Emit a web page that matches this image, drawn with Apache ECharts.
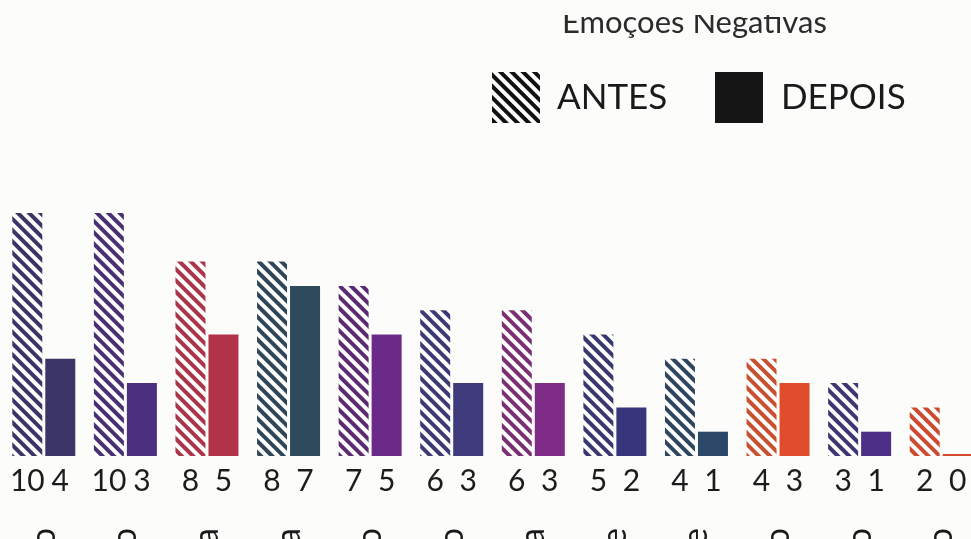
<!DOCTYPE html>
<html>
<head>
<meta charset="utf-8">
<script src="https://cdn.jsdelivr.net/npm/echarts@6/dist/echarts.min.js"></script>
<style>
  html, body { margin: 0; padding: 0; background: #fcfcfa; }
  #chart { width: 971px; height: 539px; }
</style>
</head>
<body>
<div id="chart"></div>
<script>
// Emotion categories, before/after counts and per-category colours
const categories = ['Medo', 'Desânimo', 'Tristeza', 'Raiva', 'Cansaço', 'Receio',
  'Angústia', 'Ansiedade', 'Saudade', 'Tédio', 'Pânico', 'Ódio'];
const antes = [10, 10, 8, 8, 7, 6, 6, 5, 4, 4, 3, 2];
const depois = [4, 3, 5, 7, 5, 3, 3, 2, 1, 3, 1, 0];
const solidColors = ['#3b3568', '#4c2f7e', '#b2324a', '#2f4a5d', '#6b2a87', '#3e3a7c',
  '#7f2c88', '#37357c', '#2c4868', '#df4d2c', '#4e2f88', '#d44a2c'];
const stripeColors = ['#3a3566', '#4a3072', '#aa3448', '#2f4558', '#5c2a70', '#3b3a72',
  '#7a3072', '#38386f', '#2e4560', '#c8502e', '#3f3570', '#cc4b30'];

const BG = '#fcfcfa';
const FONT = 'Lato';

function stripes(color) {
  return {
    symbol: 'rect',
    color: color,
    backgroundColor: '#ffffff',
    dashArrayX: [1, 0],
    dashArrayY: [3.4, 3.2],
    rotation: Math.PI / 4
  };
}

const antesData = antes.map((v, i) => ({
  value: v,
  itemStyle: { color: '#ffffff', decal: stripes(stripeColors[i]) }
}));
const depoisData = depois.map((v, i) => ({
  value: v,
  itemStyle: { color: solidColors[i] }
}));

const valueLabel = {
  show: true,
  position: 'bottom',
  distance: 10,
  fontFamily: FONT,
  fontSize: 30,
  color: '#1c1c1c',
  formatter: '{c}'
};

const chart = echarts.init(document.getElementById('chart'), null, { renderer: 'canvas' });
chart.setOption({
  backgroundColor: BG,
  animation: false,
  title: {
    text: 'Emoções Negativas',
    left: 557,
    top: 2,
    textStyle: { fontFamily: FONT, fontSize: 31, fontWeight: 'normal', color: '#2b2b2b' }
  },
  // the band above the heading is blank, so the tops of its letters are hidden
  graphic: [{
    type: 'rect',
    z: 100,
    shape: { x: 0, y: 0, width: 971, height: 15 },
    style: { fill: BG }
  }],
  legend: [{
    data: ['ANTES'],
    left: 492,
    top: 72,
    padding: 0,
    icon: 'rect',
    itemWidth: 48,
    itemHeight: 51,
    textStyle: { fontFamily: FONT, fontSize: 35, color: '#1a1a1a', padding: [0, 0, 0, 12] }
  }, {
    data: ['DEPOIS'],
    left: 715,
    top: 72,
    padding: 0,
    icon: 'rect',
    itemWidth: 48,
    itemHeight: 51,
    textStyle: { fontFamily: FONT, fontSize: 35, color: '#1a1a1a', padding: [0, 0, 0, 13] }
  }],
  grid: { left: 3, right: -11, top: 213, bottom: 83, outerBoundsMode: 'none', containLabel: false },
  xAxis: {
    type: 'category',
    data: categories,
    axisLine: { show: false },
    axisTick: { show: false },
    axisLabel: {
      rotate: 90,
      margin: 72,
      fontFamily: FONT,
      fontSize: 34,
      color: '#1a1a1a',
      interval: 0
    }
  },
  yAxis: { type: 'value', min: 0, max: 10, show: false },
  series: [{
    name: 'ANTES',
    type: 'bar',
    barWidth: 30,
    barGap: '10%',
    itemStyle: { color: '#ffffff', decal: stripes('#111111') },
    label: valueLabel,
    data: antesData
  }, {
    name: 'DEPOIS',
    type: 'bar',
    barWidth: 30,
    barGap: '10%',
    barMinHeight: 2,
    itemStyle: { color: '#151515' },
    label: valueLabel,
    data: depoisData
  }]
});
</script>
</body>
</html>
